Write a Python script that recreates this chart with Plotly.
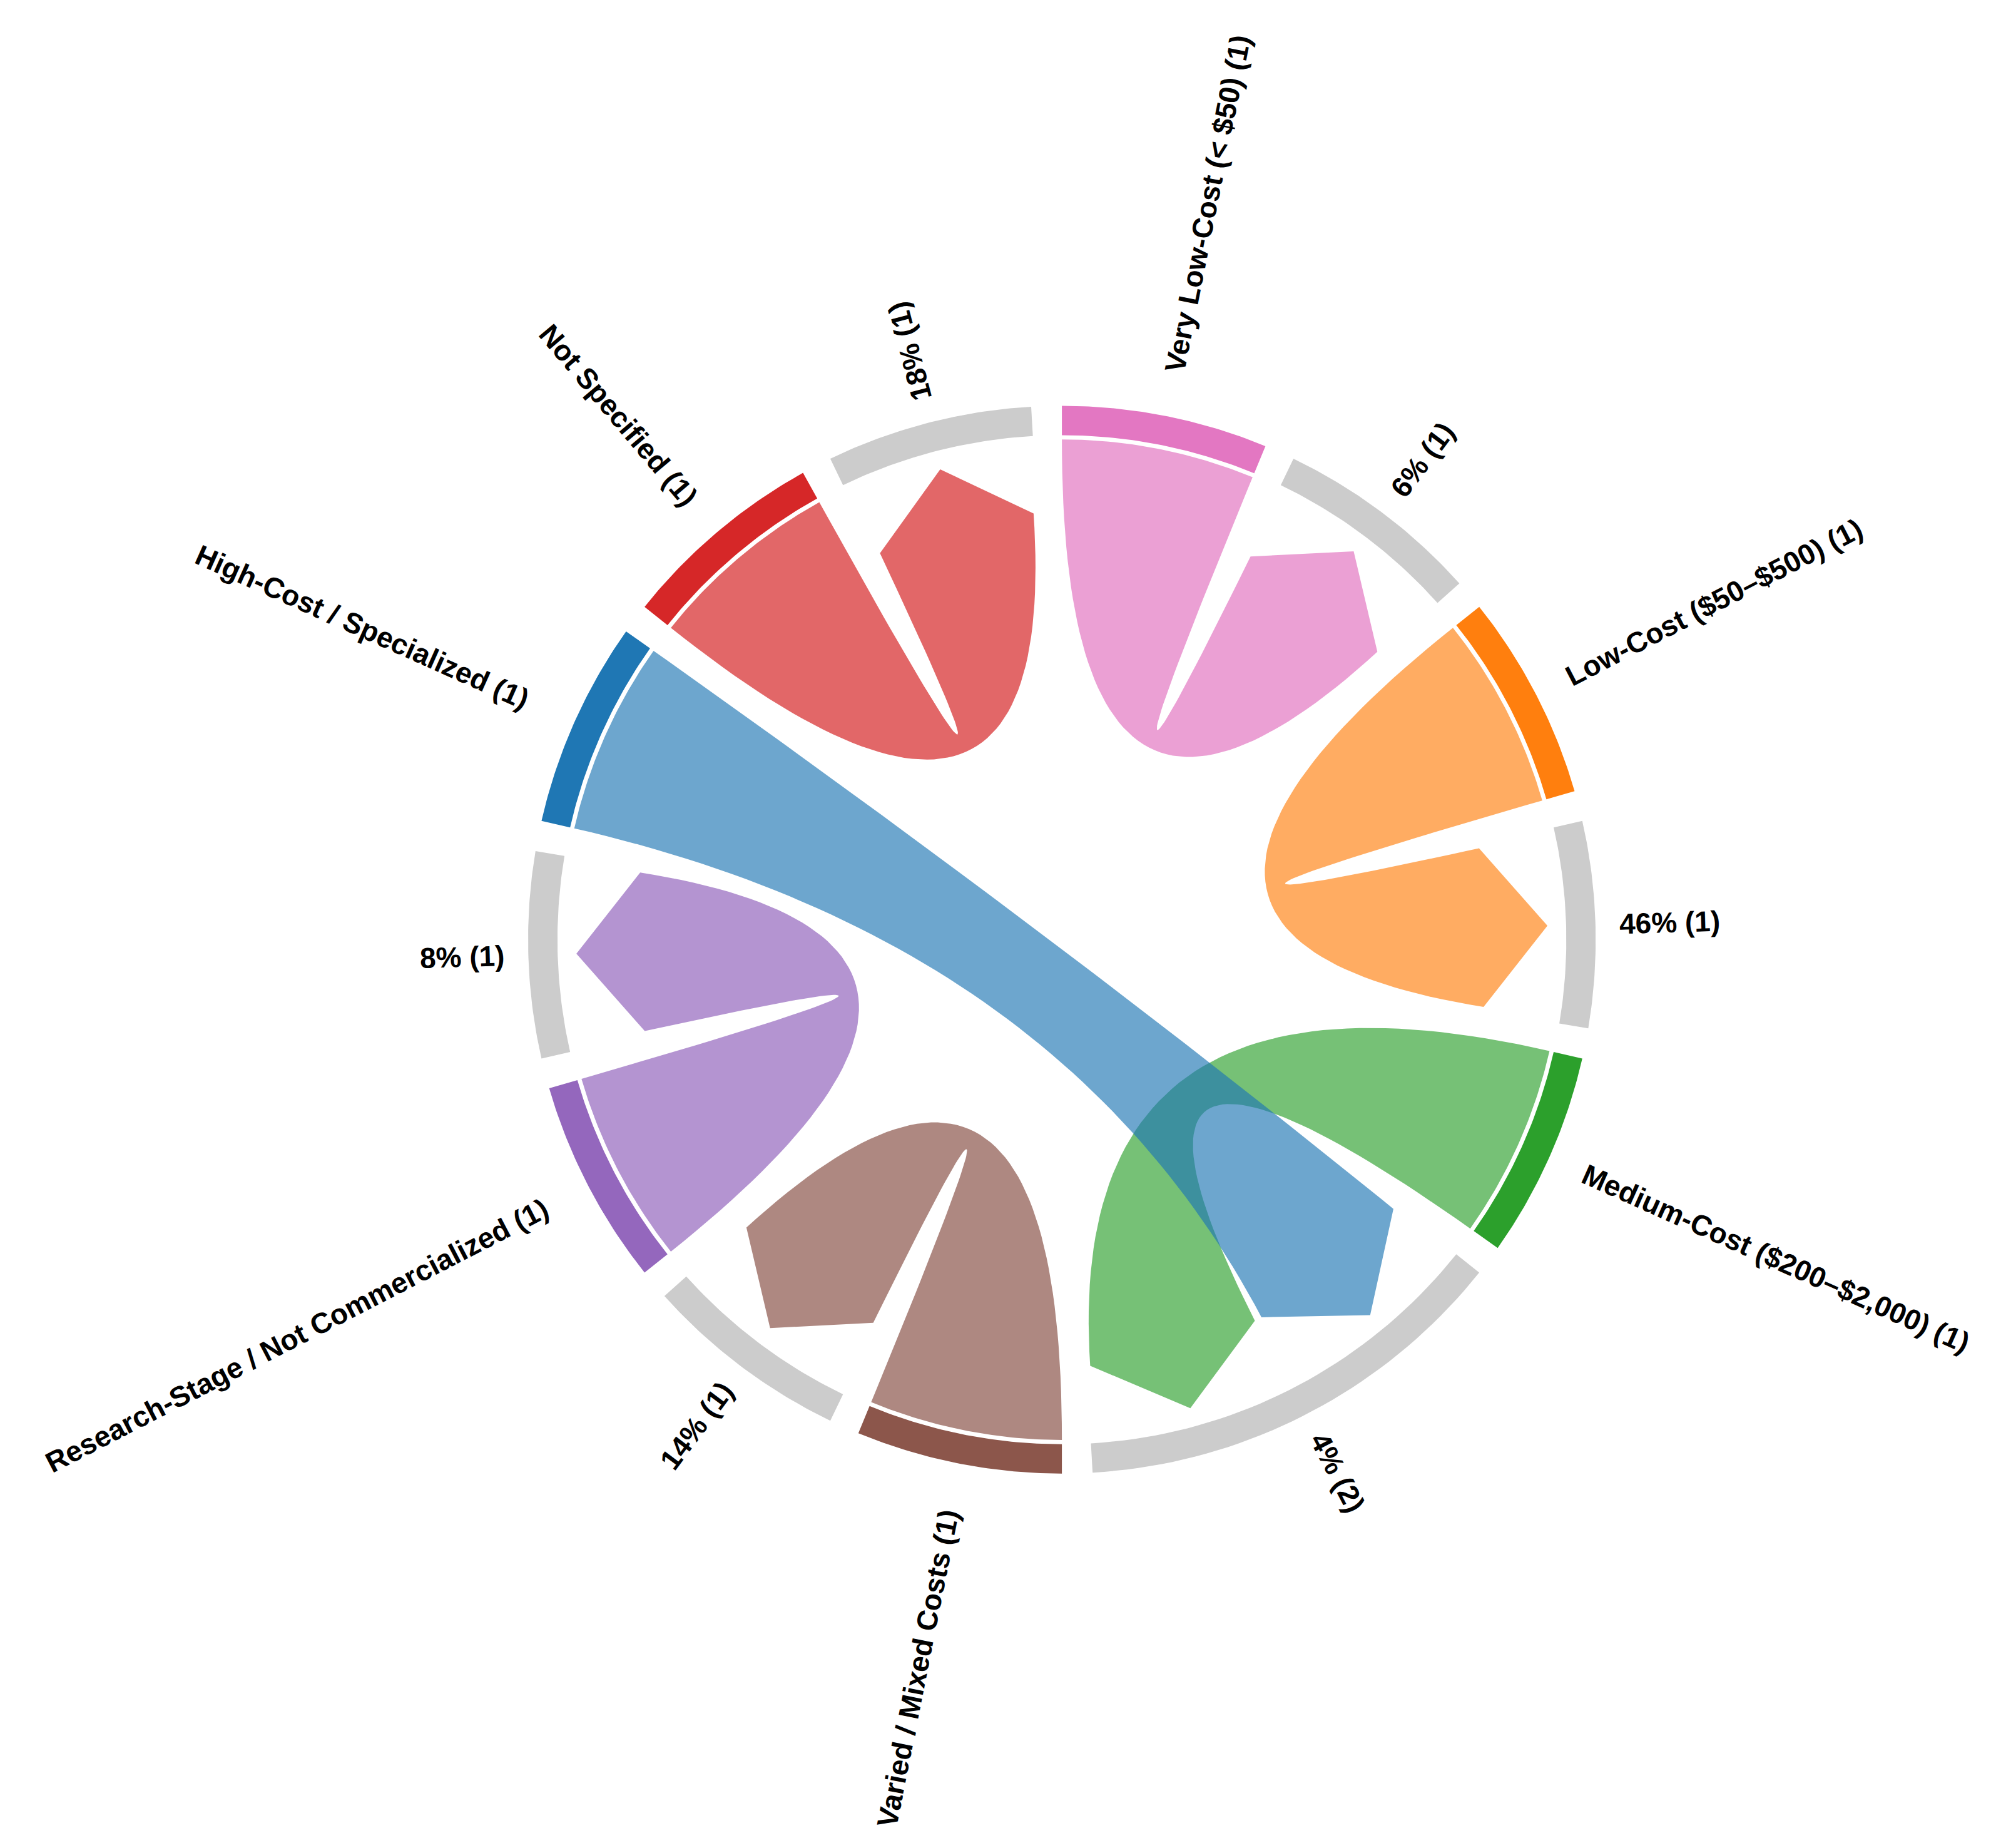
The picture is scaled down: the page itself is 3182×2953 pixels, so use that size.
import numpy as np
import plotly.graph_objects as go

# nodes in clockwise order from the top
node_names = ["Very Low-Cost (< $50) (1)", "6% (1)", "Low-Cost ($50–$500) (1)", "46% (1)",
              "Medium-Cost ($200–$2,000) (1)", "4% (2)", "Varied / Mixed Costs (1)", "14% (1)",
              "Research-Stage / Not Commercialized (1)", "8% (1)", "High-Cost / Specialized (1)",
              "Not Specified (1)", "18% (1)"]
node_counts = [1, 1, 1, 1, 1, 2, 1, 1, 1, 1, 1, 1, 1]
node_colors = ["#e377c2", "#cccccc", "#ff7f0e", "#cccccc", "#2ca02c", "#cccccc", "#8c564b",
               "#cccccc", "#9467bd", "#cccccc", "#1f77b4", "#d62728", "#cccccc"]
ribbon_colors = ["rgba(227,119,194,0.7)", None, "rgba(255,127,14,0.65)", None,
                 "rgba(44,160,44,0.65)", None, "rgba(140,86,75,0.7)", None,
                 "rgba(148,103,189,0.7)", None, "rgba(31,119,180,0.65)", "rgba(214,39,40,0.7)", None]
# (source node, target node, slot in target)
links = [(0, 1, 0), (2, 3, 0), (4, 5, 1), (6, 7, 0), (8, 9, 0), (10, 5, 0), (11, 12, 0)]

unit = 360 / sum(node_counts)
pad = 3.3
starts, ends = [], []
c = 0
for n in node_counts:
    starts.append(c * unit)
    ends.append((c + n) * unit - pad)
    c += n


def pt(r, a):
    t = np.radians(a)
    return r * np.sin(t), r * np.cos(t)


def arc(r, a0, a1, n=40):
    a = np.linspace(a0, a1, n)
    t = np.radians(a)
    return list(r * np.sin(t)), list(r * np.cos(t))


def quad(p0, p2, n=60):
    s = np.linspace(0, 1, n)
    x = (1 - s) ** 2 * p0[0] + (s) ** 2 * p2[0]
    y = (1 - s) ** 2 * p0[1] + (s) ** 2 * p2[1]
    return list(x), list(y)


fig = go.Figure()
R_in, R_out, R_rib, R_head, R_tip = 0.945, 1.0, 0.937, 0.80, 0.91

for s, t, slot in links:
    sa0, sa1 = starts[s], ends[s]
    span = (ends[t] - starts[t]) / node_counts[t]
    ta0 = starts[t] + slot * span + 0.5
    ta1 = ta0 + span - 1.0
    xs, ys = arc(R_rib, sa0, sa1)
    qx, qy = quad(pt(R_rib, sa1), pt(R_head, ta0))
    xs += qx; ys += qy
    for p in [pt(R_tip, (ta0 + ta1) / 2), pt(R_head, ta1)]:
        xs.append(p[0]); ys.append(p[1])
    qx, qy = quad(pt(R_head, ta1), pt(R_rib, sa0))
    xs += qx; ys += qy
    fig.add_trace(go.Scatter(x=xs, y=ys, fill="toself", fillcolor=ribbon_colors[s],
                             line=dict(width=0), mode="lines", hoverinfo="skip"))

for i in range(len(node_names)):
    xo, yo = arc(R_out, starts[i], ends[i])
    xi, yi = arc(R_in, ends[i], starts[i])
    fig.add_trace(go.Scatter(x=xo + xi, y=yo + yi, fill="toself", fillcolor=node_colors[i],
                             line=dict(width=0), mode="lines", hoverinfo="skip"))

fs = 46
px_per_unit = 853
for i, name in enumerate(node_names):
    a = (starts[i] + ends[i]) / 2
    L = len(name) * 0.55 * fs / px_per_unit
    cx, cy = pt(1.035 + L / 2, a)
    if 180 < a < 340:
        ang = a - 270
    else:
        ang = a - 90
    fig.add_annotation(x=cx, y=cy, text="<b>" + name + "</b>", showarrow=False,
                       textangle=ang, font=dict(family="Liberation Sans", size=fs, color="black"))

fig.update_layout(width=3182, height=2953, showlegend=False, plot_bgcolor="white",
                  paper_bgcolor="white", margin=dict(l=0, r=0, t=0, b=0))
fig.update_xaxes(range=[-1.98, 1.75], visible=False)
fig.update_yaxes(range=[-1.71, 1.75], visible=False, scaleanchor="x")
fig.write_html("out.html")
